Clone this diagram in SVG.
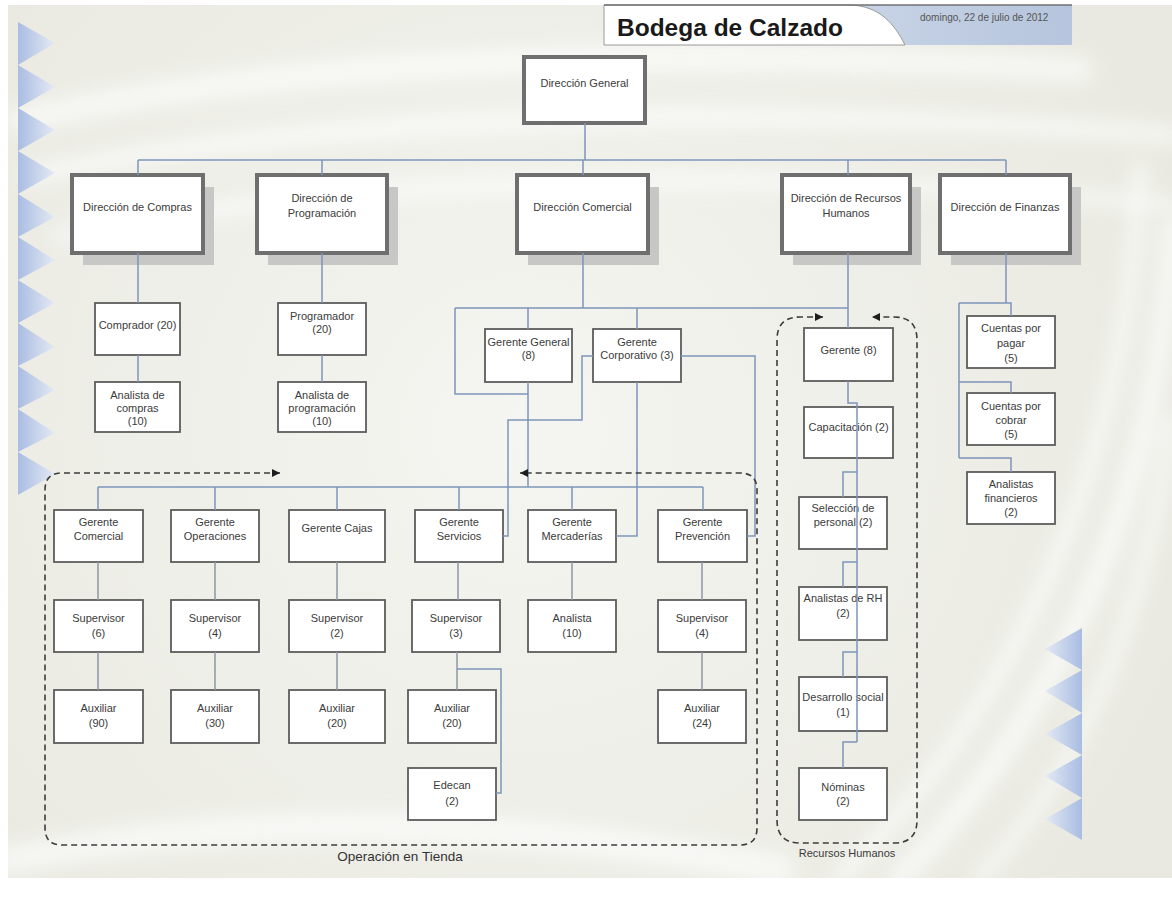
<svg xmlns="http://www.w3.org/2000/svg" width="1172" height="903" viewBox="0 0 1172 903">
  <defs>
    <style>
      .lbl { font-family: "Liberation Sans", Arial, sans-serif; font-size: 11px; fill: #3b3b3b; text-anchor: middle; }
      .top { fill: #ffffff; stroke: #6f6f6f; stroke-width: 4; }
      .shadow { fill: #c7c7c5; }
      .box { fill: #ffffff; stroke: #5c5c5c; stroke-width: 1.8; }
      .conn { fill: none; stroke: #7d95b9; stroke-width: 1.5; }
      .conn.g { stroke: #8e96a4; }
      .dash { fill: none; stroke: #3c3c3c; stroke-width: 1.6; stroke-dasharray: 6 4; }
      .swoosh { fill: none; stroke: #ffffff; stroke-linecap: round; }
      .tri-l { fill: url(#triL); }
      .tri-r { fill: url(#triR); }
    </style>
    <radialGradient id="bg" cx="520" cy="430" r="720" gradientUnits="userSpaceOnUse">
      <stop offset="0" stop-color="#f5f5f1"/>
      <stop offset="1" stop-color="#e9e9e1"/>
    </radialGradient>
    <linearGradient id="triL" x1="0" y1="0" x2="1" y2="0">
      <stop offset="0" stop-color="#a9bce2"/>
      <stop offset="1" stop-color="#e4eaf4"/>
    </linearGradient>
    <linearGradient id="triR" x1="1" y1="0" x2="0" y2="0">
      <stop offset="0" stop-color="#a9bce2"/>
      <stop offset="1" stop-color="#e4eaf4"/>
    </linearGradient>
    <linearGradient id="band" x1="0" y1="0" x2="1" y2="0">
      <stop offset="0" stop-color="#c9d4e6"/>
      <stop offset="1" stop-color="#b6c5dd"/>
    </linearGradient>
    <filter id="soft" x="-10%" y="-10%" width="120%" height="120%">
      <feGaussianBlur stdDeviation="9"/>
    </filter>
    <marker id="arrow" viewBox="0 0 10 10" refX="10" refY="5" markerWidth="9" markerHeight="8" markerUnits="userSpaceOnUse" orient="auto-start-reverse">
      <path d="M0,0 L10,5 L0,10 z" fill="#1e1e1e"/>
    </marker>
  </defs>

  <!-- page background -->
  <rect x="0" y="0" width="1172" height="903" fill="#ffffff"/>
  <rect x="8" y="5" width="1164" height="873" fill="url(#bg)"/>

  <!-- decorative swooshes -->
  <g filter="url(#soft)" opacity="0.55">
    <path class="swoosh" stroke-width="28" d="M20 120 Q 420 30 1080 70"/>
    <path class="swoosh" stroke-width="20" d="M30 175 Q 480 85 1172 135"/>
    <path class="swoosh" stroke-width="16" d="M60 235 Q 520 145 1172 205"/>
    <path class="swoosh" stroke-width="26" d="M1172 230 Q 1150 620 900 878"/>
    <path class="swoosh" stroke-width="18" d="M1140 170 Q 1120 600 840 878"/>
    <path class="swoosh" stroke-width="16" d="M1172 420 Q 1130 720 980 878"/>
    <path class="swoosh" stroke-width="32" d="M10 860 Q 350 790 780 870"/>
  </g>

  <!-- left and right triangle bands -->
  <g id="triangles-left">
    <polygon class="tri-l" points="18,22 55,43 18,65"/>
    <polygon class="tri-l" points="18,65 55,87 18,108"/>
    <polygon class="tri-l" points="18,108 55,130 18,151"/>
    <polygon class="tri-l" points="18,151 55,173 18,194"/>
    <polygon class="tri-l" points="18,194 55,217 18,237"/>
    <polygon class="tri-l" points="18,237 55,260 18,280"/>
    <polygon class="tri-l" points="18,280 55,303 18,323"/>
    <polygon class="tri-l" points="18,323 55,347 18,366"/>
    <polygon class="tri-l" points="18,366 55,390 18,409"/>
    <polygon class="tri-l" points="18,409 55,433 18,452"/>
    <polygon class="tri-l" points="18,452 55,474 18,495"/>
  </g>
  <g id="triangles-right">
    <polygon class="tri-r" points="1082,628 1045,649 1082,670"/>
    <polygon class="tri-r" points="1082,670 1045,691 1082,713"/>
    <polygon class="tri-r" points="1082,713 1045,734 1082,755"/>
    <polygon class="tri-r" points="1082,755 1045,776 1082,798"/>
    <polygon class="tri-r" points="1082,798 1045,819 1082,840"/>
  </g>

  <!-- header -->
  <g id="header">
    <rect x="840" y="5" width="232" height="40" fill="url(#band)"/>
    <path d="M604 5 H848 C880 5 895 25 905 45 H604 Z" fill="#ffffff" stroke="#9a9a9a" stroke-width="1"/>
    <line x1="604" y1="5" x2="1072" y2="5" stroke="#707070" stroke-width="1.5"/>
    <text x="617" y="36" font-family="'Liberation Sans', Arial, sans-serif" font-size="24.5" font-weight="bold" fill="#1a1a1a">Bodega de Calzado</text>
    <text x="920" y="21" font-family="'Liberation Sans', Arial, sans-serif" font-size="10" fill="#555555">domingo, 22 de julio de 2012</text>
  </g>

  <!-- top level -->
  <g id="direccion-general">
    <rect class="top" x="524" y="57" width="121" height="66"/>
    <text class="lbl" x="584.5" y="87">Dirección General</text>
  </g>
  <g id="direccion-compras">
    <rect class="shadow" x="83" y="187" width="131" height="78"/>
    <rect class="top" x="72" y="175" width="131" height="78"/>
    <text class="lbl" x="137.5" y="211">Dirección de Compras</text>
  </g>
  <g id="direccion-programacion">
    <rect class="shadow" x="268" y="187" width="130" height="78"/>
    <rect class="top" x="257" y="175" width="130" height="78"/>
    <text class="lbl" x="322" y="202">Dirección de</text>
    <text class="lbl" x="322" y="217">Programación</text>
  </g>
  <g id="direccion-comercial">
    <rect class="shadow" x="528" y="187" width="131" height="78"/>
    <rect class="top" x="517" y="175" width="131" height="78"/>
    <text class="lbl" x="582.5" y="211">Dirección Comercial</text>
  </g>
  <g id="direccion-rh">
    <rect class="shadow" x="793" y="187" width="128" height="78"/>
    <rect class="top" x="782" y="175" width="128" height="78"/>
    <text class="lbl" x="846" y="202">Dirección de Recursos</text>
    <text class="lbl" x="846" y="217">Humanos</text>
  </g>
  <g id="direccion-finanzas">
    <rect class="shadow" x="951" y="187" width="130" height="78"/>
    <rect class="top" x="940" y="175" width="130" height="78"/>
    <text class="lbl" x="1005" y="211">Dirección de Finanzas</text>
  </g>

  <!-- compras / programacion -->
  <g id="comprador">
    <rect class="box" x="95" y="303" width="85" height="52"/>
    <text class="lbl" x="137.5" y="329">Comprador (20)</text>
  </g>
  <g id="analista-compras">
    <rect class="box" x="95" y="382" width="85" height="50"/>
    <text class="lbl" x="137.5" y="399">Analista de</text>
    <text class="lbl" x="137.5" y="412">compras</text>
    <text class="lbl" x="137.5" y="425">(10)</text>
  </g>
  <g id="programador">
    <rect class="box" x="278" y="303" width="88" height="52"/>
    <text class="lbl" x="322" y="320">Programador</text>
    <text class="lbl" x="322" y="333">(20)</text>
  </g>
  <g id="analista-programacion">
    <rect class="box" x="278" y="382" width="88" height="50"/>
    <text class="lbl" x="322" y="399">Analista de</text>
    <text class="lbl" x="322" y="412">programación</text>
    <text class="lbl" x="322" y="425">(10)</text>
  </g>

  <!-- comercial -->
  <g id="gerente-general">
    <rect class="box" x="485" y="329" width="87" height="53"/>
    <text class="lbl" x="528.5" y="346">Gerente General</text>
    <text class="lbl" x="528.5" y="359">(8)</text>
  </g>
  <g id="gerente-corporativo">
    <rect class="box" x="593" y="329" width="88" height="53"/>
    <text class="lbl" x="637" y="346">Gerente</text>
    <text class="lbl" x="637" y="359">Corporativo (3)</text>
  </g>

  <!-- operacion en tienda -->
  <g id="gerente-comercial">
    <rect class="box" x="54" y="510" width="89" height="52"/>
    <text class="lbl" x="98.5" y="526">Gerente</text>
    <text class="lbl" x="98.5" y="540">Comercial</text>
  </g>
  <g id="gerente-operaciones">
    <rect class="box" x="171" y="510" width="88" height="52"/>
    <text class="lbl" x="215" y="526">Gerente</text>
    <text class="lbl" x="215" y="540">Operaciones</text>
  </g>
  <g id="gerente-cajas">
    <rect class="box" x="289" y="510" width="96" height="52"/>
    <text class="lbl" x="337" y="532">Gerente Cajas</text>
  </g>
  <g id="gerente-servicios">
    <rect class="box" x="415" y="510" width="88" height="52"/>
    <text class="lbl" x="459" y="526">Gerente</text>
    <text class="lbl" x="459" y="540">Servicios</text>
  </g>
  <g id="gerente-mercaderias">
    <rect class="box" x="528" y="510" width="88" height="52"/>
    <text class="lbl" x="572" y="526">Gerente</text>
    <text class="lbl" x="572" y="540">Mercaderías</text>
  </g>
  <g id="gerente-prevencion">
    <rect class="box" x="658" y="510" width="89" height="52"/>
    <text class="lbl" x="702.5" y="526">Gerente</text>
    <text class="lbl" x="702.5" y="540">Prevención</text>
  </g>

  <g id="supervisor-comercial">
    <rect class="box" x="54" y="600" width="89" height="52"/>
    <text class="lbl" x="98.5" y="622">Supervisor</text>
    <text class="lbl" x="98.5" y="637">(6)</text>
  </g>
  <g id="supervisor-operaciones">
    <rect class="box" x="171" y="600" width="88" height="52"/>
    <text class="lbl" x="215" y="622">Supervisor</text>
    <text class="lbl" x="215" y="637">(4)</text>
  </g>
  <g id="supervisor-cajas">
    <rect class="box" x="289" y="600" width="96" height="52"/>
    <text class="lbl" x="337" y="622">Supervisor</text>
    <text class="lbl" x="337" y="637">(2)</text>
  </g>
  <g id="supervisor-servicios">
    <rect class="box" x="412" y="600" width="88" height="52"/>
    <text class="lbl" x="456" y="622">Supervisor</text>
    <text class="lbl" x="456" y="637">(3)</text>
  </g>
  <g id="analista-mercaderias">
    <rect class="box" x="528" y="600" width="88" height="52"/>
    <text class="lbl" x="572" y="622">Analista</text>
    <text class="lbl" x="572" y="637">(10)</text>
  </g>
  <g id="supervisor-prevencion">
    <rect class="box" x="658" y="600" width="88" height="52"/>
    <text class="lbl" x="702" y="622">Supervisor</text>
    <text class="lbl" x="702" y="637">(4)</text>
  </g>

  <g id="auxiliar-comercial">
    <rect class="box" x="54" y="690" width="89" height="53"/>
    <text class="lbl" x="98.5" y="712">Auxiliar</text>
    <text class="lbl" x="98.5" y="727">(90)</text>
  </g>
  <g id="auxiliar-operaciones">
    <rect class="box" x="171" y="690" width="88" height="53"/>
    <text class="lbl" x="215" y="712">Auxiliar</text>
    <text class="lbl" x="215" y="727">(30)</text>
  </g>
  <g id="auxiliar-cajas">
    <rect class="box" x="289" y="690" width="96" height="53"/>
    <text class="lbl" x="337" y="712">Auxiliar</text>
    <text class="lbl" x="337" y="727">(20)</text>
  </g>
  <g id="auxiliar-servicios">
    <rect class="box" x="408" y="690" width="88" height="53"/>
    <text class="lbl" x="452" y="712">Auxiliar</text>
    <text class="lbl" x="452" y="727">(20)</text>
  </g>
  <g id="edecan">
    <rect class="box" x="408" y="768" width="88" height="52"/>
    <text class="lbl" x="452" y="789">Edecan</text>
    <text class="lbl" x="452" y="805">(2)</text>
  </g>
  <g id="auxiliar-prevencion">
    <rect class="box" x="658" y="690" width="88" height="53"/>
    <text class="lbl" x="702" y="712">Auxiliar</text>
    <text class="lbl" x="702" y="727">(24)</text>
  </g>

  <!-- recursos humanos -->
  <g id="gerente-rh">
    <rect class="box" x="804" y="328" width="89" height="53"/>
    <text class="lbl" x="848.5" y="354">Gerente (8)</text>
  </g>
  <g id="capacitacion">
    <rect class="box" x="804" y="407" width="89" height="51"/>
    <text class="lbl" x="848.5" y="431">Capacitación (2)</text>
  </g>
  <g id="seleccion-personal">
    <rect class="box" x="799" y="497" width="88" height="52"/>
    <text class="lbl" x="843" y="512">Selección de</text>
    <text class="lbl" x="843" y="526">personal (2)</text>
  </g>
  <g id="analistas-rh">
    <rect class="box" x="799" y="587" width="88" height="53"/>
    <text class="lbl" x="843" y="602">Analistas de RH</text>
    <text class="lbl" x="843" y="617">(2)</text>
  </g>
  <g id="desarrollo-social">
    <rect class="box" x="799" y="677" width="88" height="54"/>
    <text class="lbl" x="843" y="701">Desarrollo social</text>
    <text class="lbl" x="843" y="716">(1)</text>
  </g>
  <g id="nominas">
    <rect class="box" x="799" y="768" width="88" height="52"/>
    <text class="lbl" x="843" y="791">Nóminas</text>
    <text class="lbl" x="843" y="805">(2)</text>
  </g>

  <!-- finanzas -->
  <g id="cuentas-pagar">
    <rect class="box" x="967" y="316" width="88" height="52"/>
    <text class="lbl" x="1011" y="332">Cuentas por</text>
    <text class="lbl" x="1011" y="347">pagar</text>
    <text class="lbl" x="1011" y="362">(5)</text>
  </g>
  <g id="cuentas-cobrar">
    <rect class="box" x="967" y="393" width="88" height="52"/>
    <text class="lbl" x="1011" y="410">Cuentas por</text>
    <text class="lbl" x="1011" y="424">cobrar</text>
    <text class="lbl" x="1011" y="438">(5)</text>
  </g>
  <g id="analistas-financieros">
    <rect class="box" x="967" y="472" width="88" height="52"/>
    <text class="lbl" x="1011" y="488">Analistas</text>
    <text class="lbl" x="1011" y="502">financieros</text>
    <text class="lbl" x="1011" y="516">(2)</text>
  </g>

  <!-- connectors -->
  <g id="connectors">
    <path class="conn" d="M585 123 V160 M138 160 H1006 M138 160 V175 M322 160 V175 M583 160 V175 M848 160 V175 M1006 160 V175"/>
    <path class="conn" d="M138 253 V303 M138 355 V382 M322 253 V303 M322 355 V382"/>
    <path class="conn" d="M583 253 V308 M455 308 H848 M848 253 V328 M455 308 V394 H528 M528 308 V329 M637 308 V329"/>
    <path class="conn" d="M528 382 V487"/>
    <path class="conn" d="M637 382 V536 H616"/>
    <path class="conn" d="M593 356 H582 V420 H508 V536 H503"/>
    <path class="conn" d="M681 356 H755 V536 H747"/>
    <path class="conn" d="M1006 253 V303 M959 303 H1011 V316 M959 303 V458 M959 382 H1011 V393 M959 458 H1011 V472"/>
    <path class="conn" d="M848 381 V403 H857 V742 M857 472 H843 V497 M857 562 H843 V587 M857 652 H843 V677 M857 742 H843 V768"/>
    <path class="conn" d="M98 487 H703 M98 487 V510 M215 487 V510 M337 487 V510 M459 487 V510 M572 487 V510 M703 487 V510"/>
    <path class="conn g" d="M98 562 V600 M215 562 V600 M337 562 V600 M458 562 V600 M572 562 V600 M702 562 V600"/>
    <path class="conn g" d="M98 652 V690 M215 652 V690 M337 652 V690 M457 652 V690 M702 652 V690"/>
    <path class="conn" d="M457 669 H501 V793 H496"/>
  </g>

  <!-- area boundaries -->
  <g id="area-operacion-tienda">
    <path class="dash" d="M280 473 H62 Q45 473 45 490 V828 Q45 845 62 845 H740 Q757 845 757 828 V490 Q757 473 740 473 H520" marker-start="url(#arrow)" marker-end="url(#arrow)"/>
    <text x="400" y="861" font-family="'Liberation Sans', Arial, sans-serif" font-size="13.5" fill="#333333" text-anchor="middle">Operación en Tienda</text>
  </g>
  <g id="area-recursos-humanos">
    <path class="dash" d="M823 317 H800 Q777 317 777 340 V820 Q777 843 800 843 H894 Q917 843 917 820 V340 Q917 317 894 317 H872" marker-start="url(#arrow)" marker-end="url(#arrow)"/>
    <text x="847" y="857" font-family="'Liberation Sans', Arial, sans-serif" font-size="11" fill="#3b3b3b" text-anchor="middle">Recursos Humanos</text>
  </g>
</svg>
